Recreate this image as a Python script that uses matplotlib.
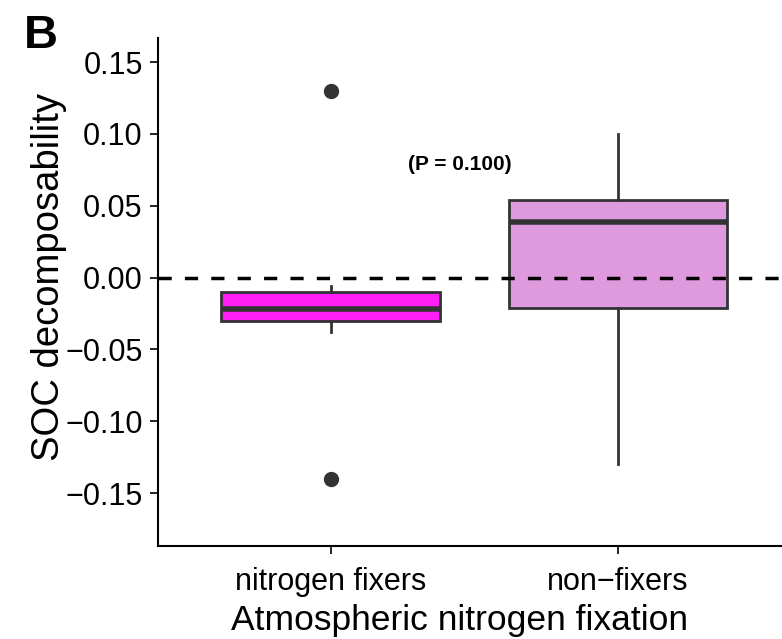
import matplotlib
matplotlib.use("Agg")
import matplotlib.pyplot as plt

plt.rcParams['font.family'] = ['Liberation Sans', 'DejaVu Sans']

# box summary values
groups = ['nitrogen fixers', 'non\u2212fixers']
whis_lo = [-0.038, -0.130]
q1 = [-0.030, -0.021]
med = [-0.022, 0.039]
q3 = [-0.010, 0.054]
whis_hi = [-0.006, 0.100]
outliers = [[0.130, -0.140], []]
fills = ['#FF1EF5', '#DE9ADC']
yticks = [0.15, 0.10, 0.05, 0.0, -0.05, -0.10, -0.15]

stats = []
for i in range(len(groups)):
    stats.append({'label': groups[i], 'whislo': whis_lo[i], 'q1': q1[i], 'med': med[i],
                  'q3': q3[i], 'whishi': whis_hi[i], 'fliers': outliers[i]})

fig = plt.figure(figsize=(7.82, 6.39), dpi=100)
ax = fig.add_axes([0.202, 0.146, 0.798, 0.795])

edge = '#333333'
bp = ax.bxp(stats, positions=[1, 2], widths=0.76, patch_artist=True, showcaps=False,
            boxprops=dict(edgecolor=edge, linewidth=2),
            medianprops=dict(color=edge, linewidth=4),
            whiskerprops=dict(color=edge, linewidth=2),
            flierprops=dict(marker='o', markerfacecolor=edge, markeredgecolor=edge, markersize=10))
for patch, c in zip(bp['boxes'], fills):
    patch.set_facecolor(c)
    patch.set_zorder(2)

ax.axhline(0, color='black', linestyle=(0, (3.8, 3.8)), linewidth=2.5, zorder=3)
ax.text(1.45, 0.079, '(P = 0.100)', fontsize=15, ha='center', va='center', fontweight='bold')

ax.set_xlim(0.4, 2.57)
ax.set_ylim(-0.1866, 0.167)
ax.set_yticks(yticks)
ax.set_yticklabels(['%.2f' % v if v >= 0 else '\u2212%.2f' % -v for v in yticks])
ax.tick_params(labelsize=22, length=6, width=1.2, colors='black')
ax.tick_params(axis='y', pad=5)
ax.tick_params(axis='x', pad=9)
for s in ['top', 'right']:
    ax.spines[s].set_visible(False)
for s in ['left', 'bottom']:
    ax.spines[s].set_linewidth(1.5)

ax.set_ylabel('SOC decomposability', fontsize=27.5)
ax.yaxis.set_label_coords(-0.146, 0.528)
ax.set_xlabel('Atmospheric nitrogen fixation', fontsize=25.5)
ax.xaxis.set_label_coords(0.484, -0.115)
fig.text(0.03, 0.925, 'B', fontsize=34, fontweight='bold')

fig.savefig('out.png', dpi=100)
